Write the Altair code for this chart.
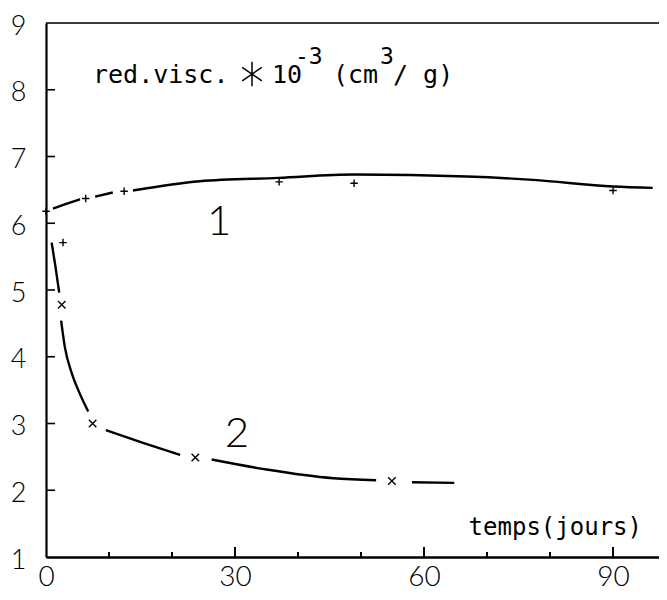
import altair as alt
import pandas as pd

# ---- data ----
# curve 1 (smooth line, drawn in segments with gaps)
c1_x = [1.1, 3.2, 5.4, 7.8, 10.6, 13.8, 24.4, 36.9, 48.9, 66.8, 77.3, 90.0, 96.3]
c1_y = [6.22, 6.29, 6.36, 6.40, 6.46, 6.49, 6.63, 6.68, 6.73, 6.70, 6.65, 6.55, 6.53]
c1_seg = ["a", "a", "a", "b", "b", "c", "c", "c", "c", "c", "c", "c", "c"]

# curve 2
c2_x = [0.9, 1.5, 2.1, 2.4, 3.0, 4.1, 5.4, 6.7, 9.5, 15.4, 21.3, 26.3, 35.0, 45.6, 52.4, 58.1, 64.8]
c2_y = [5.71, 5.35, 4.96, 4.54, 4.14, 3.75, 3.44, 3.18, 2.90, 2.71, 2.53, 2.46, 2.31, 2.18, 2.15, 2.12, 2.11]
c2_seg = ["a", "a", "a", "b", "b", "b", "b", "b", "c", "c", "c", "d", "d", "d", "d", "e", "e"]

# measured points
p1_x = [0.0, 2.7, 6.3, 12.4, 37.0, 48.9, 90.0]
p1_y = [6.18, 5.71, 6.37, 6.48, 6.62, 6.60, 6.49]
p2_x = [2.5, 7.4, 23.7, 54.9]
p2_y = [4.78, 3.00, 2.49, 2.14]

x_labels = [0, 30, 60, 90]
x_major = [30, 60, 90]
x_minor = [10, 20, 40, 50, 70, 80]
y_labels = [1, 2, 3, 4, 5, 6, 7, 8, 9]
y_ticks = [2, 3, 4, 5, 6, 7, 8]

curve_labels = ["1", "2"]
curve_label_x = [27.5, 30.3]
curve_label_y = [6.02, 2.85]

title_anchor_x = 7.46
title_anchor_y = 8.1
xtitle_text = "temps(jours)"

W, H = 613, 534
FONT = "DejaVu Sans Mono"
LFONT = "Lato"

xs = alt.Scale(domain=[0, 97.3], nice=False, zero=False)
ys = alt.Scale(domain=[1, 9], nice=False, zero=False)

c1 = pd.DataFrame({"x": c1_x, "y": c1_y, "seg": ["1" + s for s in c1_seg]})
c2 = pd.DataFrame({"x": c2_x, "y": c2_y, "seg": ["2" + s for s in c2_seg]})
curves = pd.concat([c1, c2])

xaxis = alt.Axis(values=x_labels, ticks=False, grid=False, title=None, labelFont=LFONT, format="d",
                 labelFontSize=28, labelFontWeight=300, labelColor="black", labelPadding=28,
                 labelBaseline="alphabetic", labelFlush=False, domainColor="black", domainWidth=2.5)
yaxis = alt.Axis(values=y_labels, ticks=False, grid=False, title=None, labelFont=LFONT, format="d",
                 labelFontSize=27, labelFontWeight=300, labelColor="black", labelPadding=20,
                 labelOffset=3, labelFlush=False, domainColor="black", domainWidth=2.2, labelAlign="right")

lines = alt.Chart(curves).mark_line(interpolate="monotone", color="black", strokeWidth=2.4).encode(
    x=alt.X("x:Q", scale=xs, axis=xaxis),
    y=alt.Y("y:Q", scale=ys, axis=yaxis),
    detail="seg:N",
)

plus = alt.Chart(pd.DataFrame({"x": p1_x, "y": p1_y})).mark_point(
    shape="M-1,0L1,0M0,-1L0,1", size=56, filled=False, color="black", strokeWidth=1.4, opacity=1
).encode(x="x:Q", y="y:Q")

cross = alt.Chart(pd.DataFrame({"x": p2_x, "y": p2_y})).mark_point(
    shape="M-1,-1L1,1M-1,1L1,-1", size=56, filled=False, color="black", strokeWidth=1.4, opacity=1
).encode(x="x:Q", y="y:Q")

xmaj = alt.Chart(pd.DataFrame({"x": x_major})).mark_rule(color="black", strokeWidth=2).encode(
    x="x:Q", y=alt.value(H), y2=alt.value(H - 10))
xmin = alt.Chart(pd.DataFrame({"x": x_minor})).mark_rule(color="black", strokeWidth=2).encode(
    x="x:Q", y=alt.value(H), y2=alt.value(H - 5))
ytk = alt.Chart(pd.DataFrame({"y": y_ticks})).mark_rule(color="black", strokeWidth=1.6).encode(
    y="y:Q", x=alt.value(0), x2=alt.value(9))
top = alt.Chart(pd.DataFrame({"y": [9]})).mark_rule(color="black", strokeWidth=1.6).encode(
    y="y:Q", x=alt.value(0), x2=alt.value(W))

clabels = alt.Chart(pd.DataFrame({"x": curve_label_x, "y": curve_label_y, "t": curve_labels})).mark_text(
    font=LFONT, fontSize=42, fontWeight=300, color="black", align="center", baseline="middle"
).encode(x="x:Q", y="y:Q", text="t:N")

anchor = pd.DataFrame({"x": [title_anchor_x], "y": [title_anchor_y]})


def piece(txt, dx, dy=0, size=25):
    return alt.Chart(anchor).mark_text(
        text=txt, font=FONT, fontSize=size, color="black", align="left", baseline="alphabetic", dx=dx, dy=dy
    ).encode(x="x:Q", y="y:Q")


star = alt.Chart(anchor).mark_point(
    shape="M0,-1L0,1M-0.8,-0.55L0.8,0.55M-0.8,0.55L0.8,-0.55", size=600, filled=False,
    color="black", strokeWidth=1.5, opacity=1, xOffset=159, yOffset=-9
).encode(x="x:Q", y="y:Q")

title_parts = [
    piece("red.visc.", 0),
    star,
    piece("10", 179),
    piece("-3", 202, -19, size=23),
    piece("(cm", 240),
    piece("3", 287, -19, size=23),
    piece("/ g)", 300),
]

xtitle = alt.Chart(pd.DataFrame({"x": [94.6], "y": [1.33], "t": [xtitle_text]})).mark_text(
    font=FONT, fontSize=24, color="black", align="right", baseline="alphabetic"
).encode(x="x:Q", y="y:Q", text="t:N")

chart = alt.layer(lines, plus, cross, xmaj, xmin, ytk, top, clabels, xtitle, *title_parts).properties(
    width=W, height=H,
    autosize=alt.AutoSizeParams(type="none"),
    padding={"left": 38, "top": 15, "right": 0, "bottom": 35},
).configure_view(stroke=None).configure(background="white")

chart.save("out.html", embed_options={"renderer": "svg", "actions": False})
